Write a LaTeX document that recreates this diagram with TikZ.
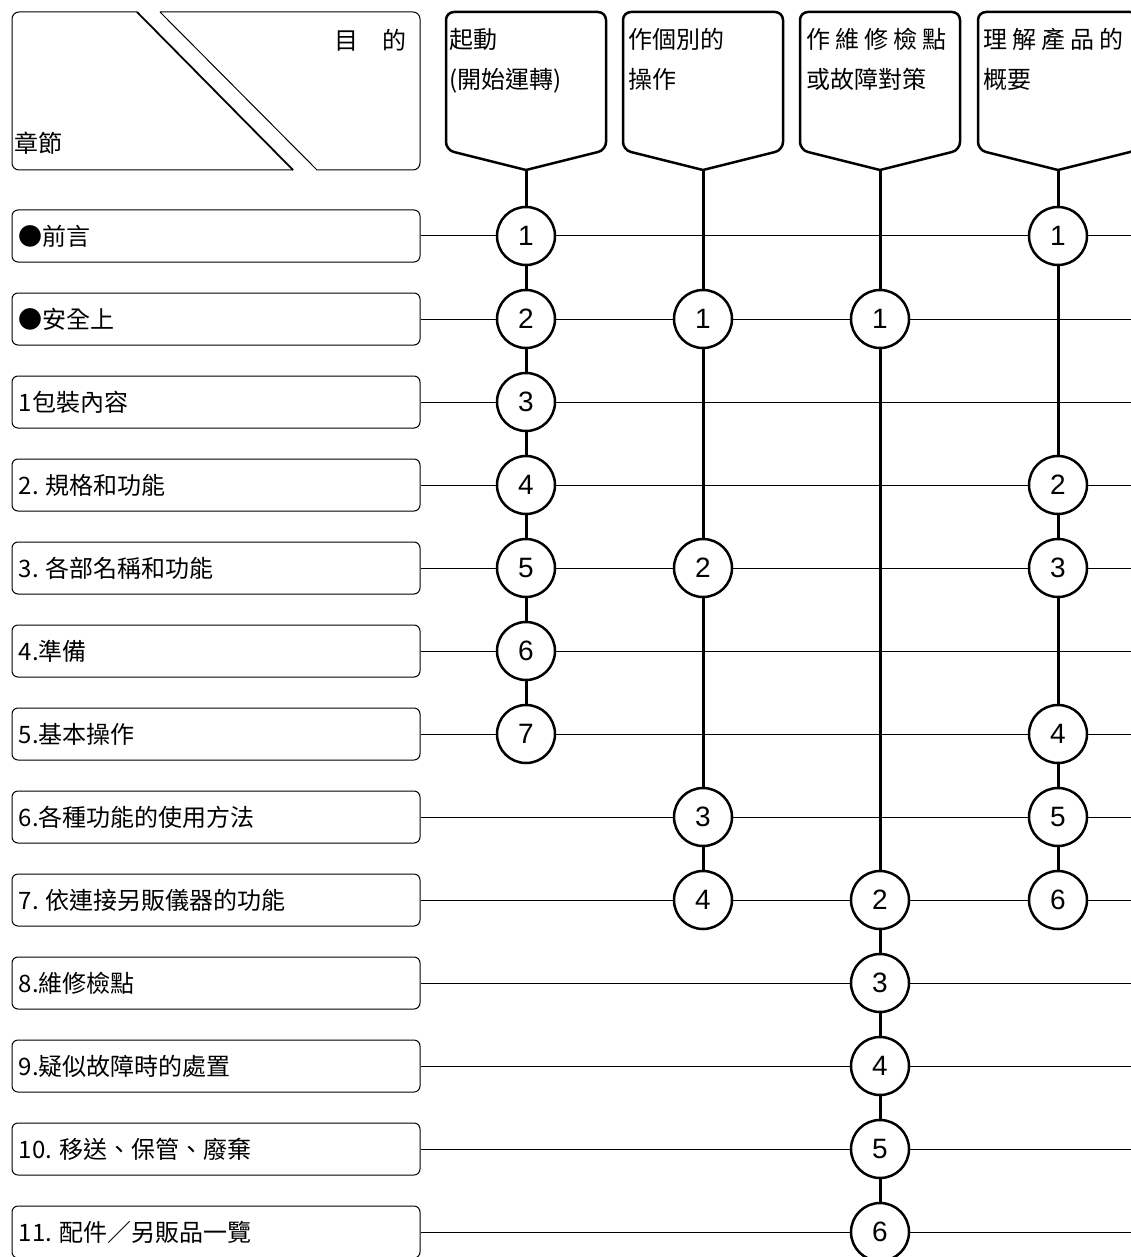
\documentclass[tikz,border=0pt]{standalone}
\usepackage{fontspec}
\newfontfamily\cjk{Noto Sans CJK TC}
\newfontfamily\arialfont{Liberation Sans}
\newcommand\gapsp{\hspace{5pt}}
\begin{document}
\begin{tikzpicture}[x=1pt,y=-1pt,
  rowbox/.style={draw, rounded corners=6pt, line width=1pt, minimum width=408pt, minimum height=52pt, inner sep=0pt},
  rowtext/.style={anchor=west, inner sep=0pt, font=\cjk\fontsize{24}{28}\selectfont},
  hline/.style={line width=1pt},
  vline/.style={line width=3pt},
  hdr/.style={line width=2.5pt, line join=round},
  hdrtext/.style={anchor=north west, inner sep=0pt, align=left, font=\cjk\fontsize{24}{40}\selectfont},
  circ/.style={draw, circle, fill=white, line width=2.5pt, minimum size=58pt, inner sep=0pt, font=\arialfont\fontsize{28}{28}\selectfont},
  cornertext/.style={inner sep=0pt, font=\cjk\fontsize{24}{28}\selectfont}
]
\useasboundingbox (0,0) rectangle (1130,1257);

% top-left corner box
\draw[line width=1pt] (137,12) [rounded corners=7pt] -- (12,12) -- (12,170) [sharp corners] -- (293,170);
\draw[line width=1.8pt] (137,12) -- (293,170);
\draw[line width=1pt] (160,12) [rounded corners=7pt] -- (420,12) -- (420,170) [sharp corners] -- (317,170) -- (160,12);
\node[cornertext] (mokuteki) at (370,40) {目\hspace{24pt}的};
\node[cornertext, anchor=west] (shousetsu) at (14,143) {章節};

% rows
\foreach \i/\t in {1/{●前言},2/{●安全上},3/{1包裝內容},4/{2. 規格和功能},5/{3. 各部名稱和功能},6/{4.準備},7/{5.基本操作},8/{6.各種功能的使用方法},9/{7. 依連接另販儀器的功能},10/{8.維修檢點},11/{9.疑似故障時的處置},12/{10. 移送、保管、廢棄},13/{11. 配件／另販品一覽}}{
  \pgfmathsetmacro\yy{236+83*(\i-1)}
  \node[rowbox] (r\i) at (216,\yy) {};
  \node[rowtext] (rt\i) at ([xshift=7pt]r\i.west) {\t};
  \coordinate (E\i) at (1135,\yy);
  \draw[hline] (r\i.east) -- (E\i);
}

% column headers
\foreach \c/\x in {1/526,2/703,3/880,4/1058}{
  \draw[hdr] (\x,170) [rounded corners=8pt] -- (\x-80,150) -- (\x-80,12) -- (\x+80,12) -- (\x+80,150) [sharp corners] -- cycle;
  \coordinate (tip\c) at (\x,170);
}
\node[hdrtext] (h1) at (449,28) {起動\\(開始運轉)};
\node[hdrtext] (h2) at (628,28) {作個別的\\操作};
\node[hdrtext] (h3) at (806,28) {作\gapsp 維\gapsp 修\gapsp 檢\gapsp 點\\或故障對策};
\node[hdrtext] (h4) at (983,28) {理\gapsp 解\gapsp 產\gapsp 品\gapsp 的\\概要};

% circles column 1
\foreach \n/\r in {1/1,2/2,3/3,4/4,5/5,6/6,7/7}{
  \node[circ] (a\n) at (526,{236+83*(\r-1)}) {\n};
}
% column 2
\foreach \n/\r in {1/2,2/5,3/8,4/9}{
  \node[circ] (b\n) at (703,{236+83*(\r-1)}) {\n};
}
% column 3
\foreach \n/\r in {1/2,2/9,3/10,4/11,5/12,6/13}{
  \node[circ] (c\n) at (880,{236+83*(\r-1)}) {\n};
}
% column 4
\foreach \n/\r in {1/1,2/4,3/5,4/7,5/8,6/9}{
  \node[circ] (d\n) at (1058,{236+83*(\r-1)}) {\n};
}

% vertical connectors
\draw[vline] (tip1) -- (a1) -- (a2) -- (a3) -- (a4) -- (a5) -- (a6) -- (a7);
\draw[vline] (tip2) -- (b1) -- (b2) -- (b3) -- (b4);
\draw[vline] (tip3) -- (c1) -- (c2) -- (c3) -- (c4) -- (c5) -- (c6);
\draw[vline] (tip4) -- (d1) -- (d2) -- (d3) -- (d4) -- (d5) -- (d6);
\end{tikzpicture}
\end{document}
